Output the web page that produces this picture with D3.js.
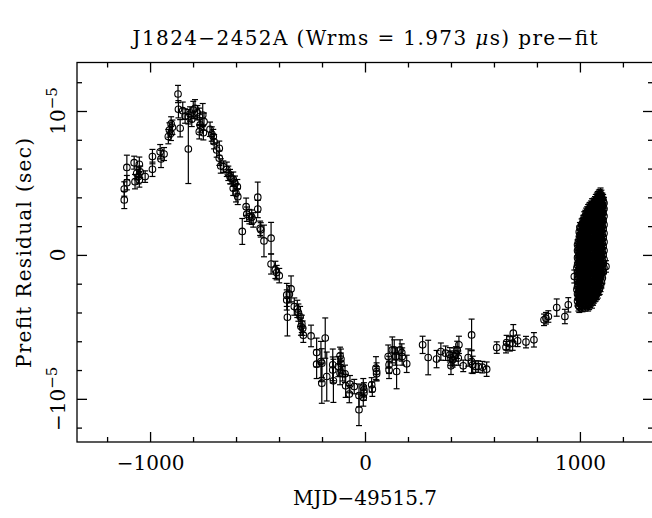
<!DOCTYPE html>
<html>
<head>
<meta charset="utf-8">
<script src="https://cdn.jsdelivr.net/npm/d3@7"></script>
<style>
  body { margin: 0; background: #fff; }
  svg { display: block; }
  text { font-family: "DejaVu Serif", serif; fill: #000; }
</style>
</head>
<body>
<svg id="chart" width="652" height="518"></svg>
<script>
// Pre-fit timing residuals of PSR J1824-2452A.
// Each TOA: [MJD - 49515.7 (days), residual (microseconds), uncertainty (microseconds)]
const toasEarly = [
  [-1120, 4.58, 0.5], [-1120, 3.82, 0.6], [-1108, 6.08, 0.85], [-1108, 5.02, 0.5],
  [-1074, 6.41, 0.45], [-1070, 5.09, 0.5], [-1062, 5.67, 0.45], [-1054, 5.44, 0.5],
  [-1050, 6.30, 0.5], [-1046, 5.78, 0.4], [-1050, 5.21, 0.5], [-1023, 5.44, 0.4],
  [-989, 6.83, 0.5], [-989, 5.95, 0.5], [-953, 7.17, 0.5], [-949, 6.67, 0.6],
  [-935, 7.01, 0.45], [-915, 8.22, 0.5], [-910, 8.68, 0.5], [-902, 9.10, 0.5],
  [-903, 8.45, 0.5], [-896, 8.87, 0.5], [-870, 11.18, 0.6], [-868, 10.12, 0.6],
  [-860, 8.80, 0.6], [-848, 10.02, 0.6], [-837, 9.65, 0.5], [-822, 9.60, 0.5],
  [-822, 7.36, 2.4], [-814, 9.79, 0.5], [-806, 9.42, 0.5], [-799, 10.07, 0.6],
  [-791, 10.19, 0.6], [-780, 9.88, 0.5], [-771, 9.60, 0.6], [-771, 8.56, 0.5],
  [-767, 9.03, 0.5], [-755, 9.72, 0.8], [-752, 8.49, 0.5], [-749, 9.26, 0.6],
  [-721, 8.73, 0.5], [-713, 8.40, 0.5], [-706, 8.22, 0.5], [-702, 7.87, 0.5],
  [-690, 7.29, 0.5], [-678, 7.41, 0.5], [-678, 6.72, 0.5], [-671, 6.18, 0.5],
  [-659, 6.13, 0.4], [-643, 5.95, 0.5], [-636, 5.67, 0.5], [-628, 5.44, 0.5],
  [-623, 5.33, 0.4], [-613, 5.26, 0.5], [-605, 4.98, 0.5], [-613, 4.63, 0.5],
  [-594, 4.74, 0.5], [-600, 4.28, 0.6], [-592, 4.05, 0.55], [-571, 1.63, 0.9],
  [-553, 3.35, 0.6], [-550, 2.83, 0.5], [-538, 2.66, 0.5], [-527, 2.62, 0.5],
  [-520, 2.43, 0.5], [-499, 4.01, 1.05], [-499, 3.19, 0.6], [-488, 1.85, 0.5],
  [-485, 1.74, 0.5], [-470, 0.97, 1.1], [-437, 1.16, 1.1], [-437, -0.63, 0.7],
  [-417, -1.04, 0.6], [-411, -1.23, 0.5], [-399, -1.44, 0.5]
];

const toasMid = [
  [-364, -2.78, 0.8], [-364, -3.13, 0.7], [-352, -2.73, 0.6], [-344, -2.36, 0.9],
  [-361, -4.33, 1.3], [-329, -3.59, 0.6], [-315, -3.75, 0.6], [-310, -4.01, 0.6],
  [-302, -4.28, 0.7], [-294, -4.79, 0.6], [-298, -4.98, 0.6], [-290, -5.09, 0.5],
  [-287, -5.58, 0.5], [-251, -5.63, 0.75], [-225, -6.78, 1.0], [-225, -7.59, 1.0],
  [-205, -7.41, 1.4], [-201, -7.52, 1.0], [-201, -8.91, 1.4], [-185, -5.78, 1.4],
  [-178, -8.45, 1.7], [-150, -7.64, 1.1], [-150, -7.99, 0.9], [-147, -8.75, 1.5],
  [-124, -7.76, 0.7], [-116, -7.01, 0.6], [-112, -7.24, 0.7], [-112, -7.52, 0.7],
  [-116, -8.22, 0.8], [-104, -8.26, 0.5], [-93, -8.26, 0.6], [-90, -9.10, 0.8],
  [-73, -9.67, 0.6], [-70, -8.98, 0.6], [-50, -9.15, 0.5], [-28, -9.77, 0.8],
  [-28, -10.76, 1.1], [-8, -9.19, 0.6], [-5, -9.38, 0.5], [-8, -9.91, 0.6],
  [-5, -9.60, 0.5], [31, -9.03, 0.5], [34, -9.33, 0.5], [51, -7.87, 0.8],
  [54, -8.10, 0.6], [54, -8.26, 0.5], [108, -7.06, 0.8], [112, -7.64, 0.6],
  [112, -7.99, 0.6], [127, -6.60, 0.9], [136, -6.60, 0.7], [143, -7.06, 0.6],
  [147, -8.10, 1.2], [163, -6.60, 0.7], [171, -6.78, 0.6], [173, -7.06, 0.6],
  [194, -7.57, 0.6], [268, -6.25, 0.6], [294, -7.13, 1.2], [333, -7.24, 0.6],
  [353, -6.72, 0.6], [375, -6.83, 0.5], [395, -6.94, 0.5], [400, -7.17, 0.5],
  [400, -7.71, 0.6], [408, -7.29, 0.5], [414, -7.06, 0.6], [423, -6.88, 0.5],
  [429, -6.60, 0.6], [437, -6.25, 0.6], [434, -7.17, 0.5], [457, -7.71, 0.4],
  [480, -7.13, 0.6], [496, -5.56, 1.1], [496, -7.41, 0.8], [501, -7.64, 0.6],
  [515, -7.76, 0.4], [527, -7.76, 0.4], [546, -7.80, 0.4], [566, -7.94, 0.5]
];

const toasLate = [
  [613, -6.44, 0.4], [656, -6.41, 0.4], [659, -6.09, 0.5], [674, -6.18, 0.5],
  [687, -6.13, 0.5], [690, -5.44, 0.6], [710, -5.97, 0.4], [749, -6.06, 0.4],
  [786, -5.90, 0.5], [833, -4.51, 0.4], [842, -4.40, 0.4], [853, -4.28, 0.4],
  [892, -3.66, 0.6], [930, -4.28, 0.5], [946, -3.47, 0.5]
];

// Dense campaign around day 1000: observing days and the residuals taken on each
const clusterDays = [974, 986, 989, 993, 997, 1000, 1004, 1008, 1012, 1016, 1020,
                     1025, 1029, 1034, 1038, 1043, 1047, 1052, 1056, 1061, 1065,
                     1070, 1074, 1079, 1083, 1088, 1092, 1096, 1100, 1104, 1108,
                     1112, 1121];
const clusterErrors = [0.45, 0.4, 0.35, 0.4, 0.4, 0.35, 0.4, 0.4, 0.35, 0.35, 0.4,
                       0.4, 0.35, 0.35, 0.4, 0.4, 0.35, 0.35, 0.4, 0.4, 0.35,
                       0.35, 0.4, 0.4, 0.4, 0.4, 0.45, 0.45, 0.4, 0.4, 0.4,
                       0.4, 0.4];
const clusterResiduals = [
  [-1.5],
  [-2.4, -0.9],
  [-3.2, -2.7, -2.2, -1.7, -1.2, -0.7, -0.2, 0.3, 0.7],
  [-3.5, -3.0, -2.6, -2.1, -1.6, -1.1, -0.6, -0.1, 0.4, 0.9],
  [-3.6, -3.1, -2.6, -2.1, -1.6, -1.0, -0.5, 0.0, 0.5, 1.1, 1.6],
  [-3.4, -2.9, -2.4, -1.9, -1.3, -0.8, -0.2, 0.3, 0.8, 1.4, 1.9],
  [-3.2, -2.6, -2.0, -1.5, -0.9, -0.4, 0.2, 0.7, 1.3, 1.8],
  [-3.5, -2.9, -2.3, -1.8, -1.2, -0.7, -0.1, 0.5, 1.0, 1.6, 2.1],
  [-3.6, -3.1, -2.5, -1.9, -1.3, -0.7, -0.1, 0.5, 1.1, 1.6, 2.2],
  [-3.4, -2.8, -2.2, -1.6, -1.0, -0.4, 0.2, 0.8, 1.3, 1.9, 2.4],
  [-3.2, -2.6, -2.0, -1.4, -0.8, -0.2, 0.4, 1.0, 1.6, 2.1, 2.6],
  [-3.5, -2.9, -2.3, -1.7, -1.1, -0.5, 0.1, 0.7, 1.2, 1.8, 2.3, 2.7],
  [-3.4, -2.8, -2.2, -1.6, -1.0, -0.4, 0.2, 0.8, 1.4, 2.0, 2.5, 2.9],
  [-3.3, -2.7, -2.1, -1.5, -0.9, -0.3, 0.3, 0.9, 1.4, 2.0, 2.5, 3.0],
  [-3.5, -3.0, -2.4, -1.8, -1.2, -0.6, 0.0, 0.6, 1.2, 1.7, 2.2, 2.7, 3.1],
  [-3.4, -2.8, -2.2, -1.6, -1.0, -0.4, 0.2, 0.8, 1.3, 1.9, 2.4, 2.9, 3.2],
  [-3.3, -2.7, -2.1, -1.5, -0.9, -0.3, 0.3, 0.9, 1.5, 2.0, 2.6, 3.1, 3.3],
  [-3.2, -2.6, -2.0, -1.4, -0.8, -0.2, 0.4, 1.0, 1.5, 2.1, 2.6, 3.0, 3.4],
  [-3.3, -2.9, -2.3, -1.7, -1.1, -0.5, 0.1, 0.7, 1.3, 1.9, 2.4, 2.9, 3.3, 3.5],
  [-3.1, -2.5, -1.9, -1.3, -0.7, -0.1, 0.5, 1.1, 1.7, 2.2, 2.7, 3.2, 3.5],
  [-3.0, -2.8, -2.2, -1.6, -1.0, -0.4, 0.2, 0.8, 1.4, 2.0, 2.5, 3.0, 3.4, 3.6],
  [-2.9, -2.3, -1.7, -1.1, -0.5, 0.1, 0.7, 1.3, 1.8, 2.4, 2.9, 3.3, 3.7],
  [-2.8, -2.6, -2.0, -1.4, -0.8, -0.2, 0.4, 1.0, 1.6, 2.1, 2.6, 3.1, 3.5, 3.8],
  [-2.7, -2.1, -1.5, -0.9, -0.3, 0.3, 0.9, 1.5, 2.0, 2.6, 3.1, 3.5, 3.9],
  [-2.6, -2.3, -1.7, -1.1, -0.5, 0.1, 0.7, 1.3, 1.9, 2.5, 3.0, 3.5, 3.9, 4.0],
  [-2.4, -1.8, -1.2, -0.6, 0.0, 0.6, 1.2, 1.8, 2.3, 2.9, 3.4, 3.8, 4.1],
  [-2.3, -2.0, -1.4, -0.8, -0.2, 0.4, 1.0, 1.6, 2.2, 2.7, 3.2, 3.7, 4.1],
  [-2.1, -1.5, -0.9, -0.3, 0.3, 0.9, 1.5, 2.1, 2.6, 3.1, 3.6, 4.0, 4.2],
  [-1.9, -1.3, -0.7, -0.1, 0.5, 1.1, 1.7, 2.3, 2.8, 3.3, 3.7, 4.1],
  [-1.6, -1.0, -0.4, 0.2, 0.8, 1.4, 2.0, 2.5, 3.0, 3.5, 3.9],
  [-1.2, -0.6, 0.0, 0.6, 1.2, 1.8, 2.4, 2.9, 3.4, 3.8],
  [-0.9, -0.3, 0.3, 0.9, 1.5, 2.1, 2.7, 3.2, 3.6],
  [-0.8]
];

// Axis ticks
const xMajorTicks = [-1000, 0, 1000];
const xMinorTicks = [-1200, -800, -600, -400, -200, 200, 400, 600, 800, 1200];
const yMajorTicks = [-10, 0, 10];
const yMinorTicks = [-12, -8, -6, -4, -2, 2, 4, 6, 8, 12];
const yTickLabels = [["\u221210", "\u22125"], ["0", null], ["10", "\u22125"]];

const titleText = "J1824\u22122452A (Wrms = 1.973 ";
const xTitle = "MJD\u221249515.7";
const yTitle = "Prefit Residual (sec)";

// Assemble the full TOA list
const clusterToas = clusterDays.flatMap((d, i) =>
  clusterResiduals[i].map(r => [d, r, clusterErrors[i]]));
const toas = [...toasEarly, ...toasMid, ...toasLate, ...clusterToas];

const svg = d3.select("#chart");
const W = 652, H = 518;
const box = { left: 77, right: 653, top: 62.5, bottom: 442 };

const x = d3.scaleLinear().domain([-1340, 1340]).range([box.left, box.right]);
const y = d3.scaleLinear().domain([-13.0, 13.37]).range([box.bottom, box.top]);

svg.append("rect").attr("width", W).attr("height", H).attr("fill", "#fff");

// Frame
svg.append("rect")
  .attr("x", box.left).attr("y", box.top)
  .attr("width", box.right - box.left).attr("height", box.bottom - box.top)
  .attr("fill", "none").attr("stroke", "#000").attr("stroke-width", 1.3);

// Inward ticks on all four sides
function ticks(axis, transform) {
  const g = svg.append("g").attr("transform", transform).call(axis);
  g.select(".domain").remove();
  g.selectAll(".tick line").attr("stroke", "#000").attr("stroke-width", 1.3);
  return g;
}
const fmtX = d => d < 0 ? "\u2212" + Math.abs(d) : String(d);

const gx = ticks(d3.axisBottom(x).tickValues(xMajorTicks).tickSize(-10).tickPadding(14).tickFormat(fmtX),
      `translate(0,${box.bottom})`);
gx.selectAll("text").attr("font-size", 20).attr("font-family", "DejaVu Serif").attr("fill", "#000");
ticks(d3.axisBottom(x).tickValues(xMinorTicks).tickSize(-5).tickFormat(""), `translate(0,${box.bottom})`);
ticks(d3.axisTop(x).tickValues(xMajorTicks).tickSize(-10).tickFormat(""), `translate(0,${box.top})`);
ticks(d3.axisTop(x).tickValues(xMinorTicks).tickSize(-5).tickFormat(""), `translate(0,${box.top})`);
ticks(d3.axisLeft(y).tickValues(yMajorTicks).tickSize(-10).tickFormat(""), `translate(${box.left},0)`);
ticks(d3.axisLeft(y).tickValues(yMinorTicks).tickSize(-5).tickFormat(""), `translate(${box.left},0)`);
ticks(d3.axisRight(y).tickValues(yMajorTicks).tickSize(-10).tickFormat(""), `translate(${box.right},0)`);
ticks(d3.axisRight(y).tickValues(yMinorTicks).tickSize(-5).tickFormat(""), `translate(${box.right},0)`);

// Vertical y tick labels with exponents
yMajorTicks.forEach((v, i) => {
  const [base, expo] = yTickLabels[i];
  const t = svg.append("text")
    .attr("transform", `translate(65,${y(v)}) rotate(-90)`)
    .attr("text-anchor", "middle")
    .attr("font-size", 20);
  t.append("tspan").text(base);
  if (expo) t.append("tspan").attr("dy", "-0.55em").attr("font-size", 15).text(expo);
});

// Title
const tt = svg.append("text")
  .attr("x", (box.left + box.right) / 2).attr("y", 45)
  .attr("text-anchor", "middle").attr("font-size", 20)
  .attr("textLength", 465).attr("lengthAdjust", "spacing");
tt.append("tspan").text(titleText);
tt.append("tspan").attr("font-style", "italic").text("\u03bc");
tt.append("tspan").text("s) pre\u2212fit");

// Axis titles
svg.append("text")
  .attr("x", (box.left + box.right) / 2).attr("y", 505)
  .attr("text-anchor", "middle").attr("font-size", 20).text(xTitle);
svg.append("text")
  .attr("transform", `translate(31,253) rotate(-90)`)
  .attr("text-anchor", "middle").attr("font-size", 20)
  .attr("textLength", 230).attr("lengthAdjust", "spacing").text(yTitle);

// Error bars and open-circle markers
const plot = svg.append("g");
const cap = 3;
const bars = plot.selectAll("g.toa").data(toas).join("g").attr("class", "toa");
bars.append("line")
  .attr("x1", d => x(d[0])).attr("x2", d => x(d[0]))
  .attr("y1", d => y(d[1] - d[2])).attr("y2", d => y(d[1] + d[2]));
bars.append("line")
  .attr("x1", d => x(d[0]) - cap).attr("x2", d => x(d[0]) + cap)
  .attr("y1", d => y(d[1] + d[2])).attr("y2", d => y(d[1] + d[2]));
bars.append("line")
  .attr("x1", d => x(d[0]) - cap).attr("x2", d => x(d[0]) + cap)
  .attr("y1", d => y(d[1] - d[2])).attr("y2", d => y(d[1] - d[2]));
bars.selectAll("line").attr("stroke", "#000").attr("stroke-width", 1.2);
bars.append("circle")
  .attr("cx", d => x(d[0])).attr("cy", d => y(d[1])).attr("r", 3.3)
  .attr("fill", "none").attr("stroke", "#000").attr("stroke-width", 1.1);
</script>
</body>
</html>
